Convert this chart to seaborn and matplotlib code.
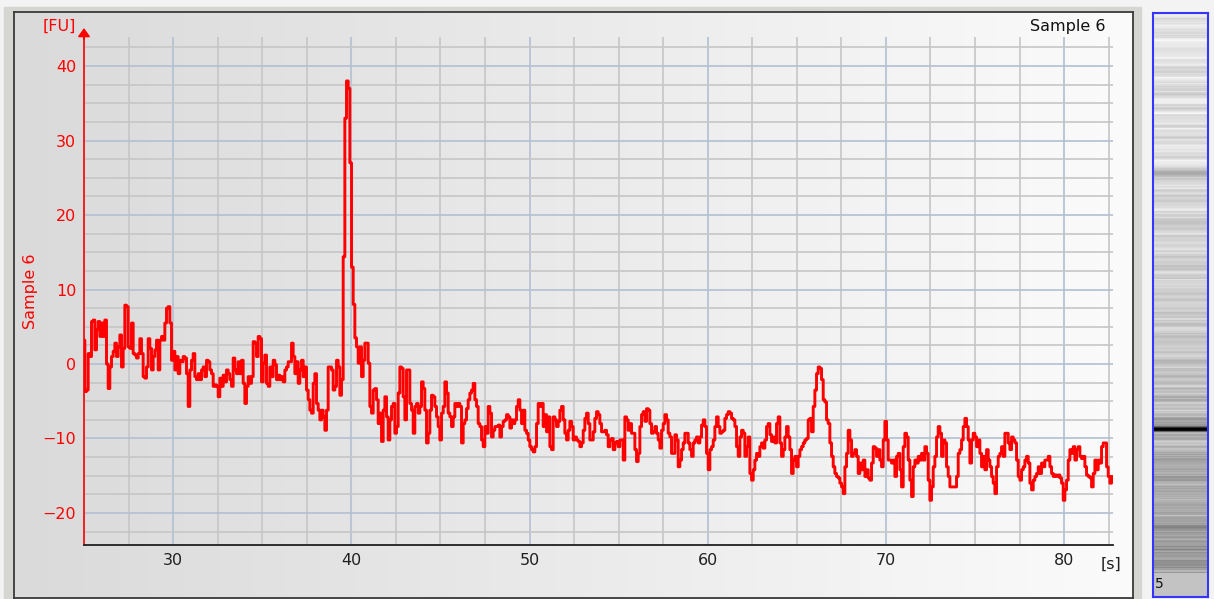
import numpy as np
import pandas as pd
import matplotlib
matplotlib.use("Agg")
import matplotlib.pyplot as plt
from matplotlib.ticker import MultipleLocator, FixedLocator
from matplotlib.patches import Rectangle
import seaborn as sns

# ---------------- data ----------------
T_START = 25.0      # s, first sample
T_STEP = 0.09353    # s, sampling interval

fu_25_to_39 = [
    3.2, -3.7, -3.5, 1.4, 1.0, 5.7, 5.9, 1.9, 4.6, 5.7, 3.7, 5.5, 3.7, 5.9, 0.0, -3.3,
    -0.4, 1.0, 1.7, 2.8, 1.0, 2.3, 3.9, -0.4, 2.1, 7.9, 7.7, 2.3, 2.1, 5.5, 1.4, 1.2,
    0.8, 1.4, 3.4, 1.4, -1.7, -1.9, -0.4, 3.4, 2.1, -0.8, 1.0, 1.9, 3.2, -0.8, 3.2, 3.7,
    3.2, 5.5, 7.5, 7.7, 5.5, 0.5, 1.7, -0.8, 1.0, -1.3, 0.5, 0.3, 1.0, 0.8, -1.3, -5.7,
    -0.8, 0.5, 1.4, -1.7, -2.1, -1.3, -2.1, -0.8, -0.4, -1.7, 0.5, 0.3, -0.8, -1.3, -3.0, -2.8,
    -3.0, -4.4, -1.9, -3.0, -1.5, -2.4, -0.8, -1.3, -2.1, -3.0, 0.8, -0.8, -1.3, 0.3, -1.3, 0.5,
    -2.6, -5.3, -3.0, -1.7, -2.6, -1.7, 3.0, 2.8, 1.0, 3.7, 3.4, -2.4, 0.1, 1.2, -2.6, -3.0,
    -0.4, -1.7, 0.5, -0.1, -2.1, -1.5, -2.1, -1.7, -2.4, -0.8, -0.4, 0.3, 0.3, 2.8, 1.0, -1.3,
    0.3, -2.6, -0.8, 0.5, -1.7, -0.4, -3.5, -4.8, -6.2, -6.6, -2.6, -1.3, -5.3, -6.2, -7.5, -6.2,
    -7.1, -8.9, -6.2, -0.4,
]

fu_39_to_52 = [
    -0.4, -0.8, -3.5, -3.0, 0.5, -0.4, -4.2, -2.1, 14.4, 33.0, 38.0, 37.0, 27.0, 13.0, 8.0, 3.5,
    2.3, 0.1, 2.3, -1.7, 0.5, 2.8, 2.8, 0.1, -5.7, -6.6, -3.5, -3.3, -4.8, -8.0, -6.6, -10.4,
    -6.2, -4.4, -7.1, -10.2, -7.5, -5.7, -5.3, -9.3, -8.4, -3.9, -0.4, -0.6, -4.4, -7.5, -0.8, -0.8,
    -5.3, -6.2, -9.3, -5.7, -5.3, -6.6, -5.7, -2.4, -3.3, -6.2, -10.6, -9.3, -6.2, -4.2, -4.4, -5.7,
    -7.1, -8.4, -10.2, -6.6, -5.7, -2.4, -3.9, -6.6, -7.1, -8.4, -7.1, -5.3, -5.7, -5.3, -5.7, -10.6,
    -8.0, -7.5, -6.0, -4.8, -3.9, -3.5, -2.6, -4.8, -5.7, -8.0, -8.4, -10.2, -11.1, -8.4, -9.3, -5.7,
    -6.6, -9.8, -8.9, -8.4, -8.4, -8.2, -9.8, -8.4, -7.7, -7.5, -6.8, -7.1, -8.6, -7.5, -8.0, -7.5,
    -5.7, -4.8, -6.2, -8.0, -6.2, -8.9, -9.3, -10.2, -11.1, -11.5, -11.8, -11.1, -8.0, -5.3, -5.7, -5.3,
    -8.4, -6.8, -9.1, -7.1, -11.1, -11.5, -7.1, -7.5, -8.4, -7.7, -6.2, -5.7, -7.5, -9.3, -10.2, -8.9,
    -7.7, -8.4, -10.2,
]

fu_52_to_66 = [
    -9.8, -10.2, -10.4, -11.1, -10.6, -8.9, -7.3, -6.6, -8.0, -10.2, -10.2, -9.1, -7.3, -6.4, -6.8, -8.0,
    -9.1, -9.1, -8.9, -9.5, -11.1, -10.2, -10.0, -11.5, -10.6, -10.4, -11.1, -10.2, -10.2, -12.9, -7.1, -7.5,
    -8.9, -8.0, -9.3, -9.3, -11.5, -13.1, -12.0, -8.4, -6.8, -6.4, -7.7, -6.0, -6.2, -8.0, -9.3, -9.1,
    -8.4, -9.3, -10.2, -11.3, -8.9, -8.0, -6.8, -7.5, -9.3, -9.8, -12.0, -12.0, -9.5, -10.2, -13.8, -12.9,
    -11.5, -10.6, -9.3, -9.3, -10.6, -11.5, -12.4, -10.6, -10.2, -9.8, -10.6, -9.8, -8.2, -7.5, -8.4, -12.0,
    -14.2, -11.5, -11.1, -10.2, -8.4, -7.1, -8.4, -9.3, -9.1, -8.9, -7.3, -6.8, -6.4, -6.6, -7.3, -7.5,
    -8.4, -11.1, -12.4, -9.8, -8.9, -9.3, -12.4, -11.1, -9.8, -14.7, -15.6, -14.2, -12.9, -12.0, -12.4, -11.1,
    -10.6, -11.3, -10.2, -8.4, -8.0, -9.5, -10.4, -9.8, -10.6, -8.0, -7.1, -10.6, -12.4, -11.5, -9.8, -8.4,
    -9.8, -11.5, -14.7, -12.9, -12.4, -13.8, -12.4, -11.5, -11.1, -10.6, -10.2, -10.0, -7.5, -7.3, -9.1, -5.7,
    -3.5, -1.3, -0.4,
]

fu_66_to_83 = [
    -0.6, -2.1, -4.8, -5.1, -7.5, -8.0, -10.6, -12.4, -13.8, -14.7, -15.1, -15.3, -16.0, -16.5, -17.4, -13.8,
    -12.0, -8.9, -10.2, -12.4, -12.0, -11.5, -12.4, -14.7, -13.3, -14.2, -12.9, -15.1, -14.2, -15.3, -15.6, -13.3,
    -11.1, -11.3, -12.4, -11.5, -12.9, -13.8, -10.2, -7.7, -10.2, -12.9, -12.9, -13.3, -12.9, -15.1, -12.4, -12.0,
    -14.2, -16.5, -11.1, -9.3, -9.8, -12.9, -15.6, -17.8, -13.8, -12.9, -13.3, -12.4, -12.9, -12.0, -12.9, -11.1,
    -12.0, -15.6, -18.3, -16.5, -13.8, -12.4, -9.8, -8.4, -9.3, -12.4, -10.2, -10.6, -13.8, -15.1, -16.5, -16.5,
    -16.5, -16.5, -15.1, -12.0, -11.5, -10.2, -8.4, -7.3, -8.4, -10.2, -13.3, -10.2, -9.3, -9.8, -11.1, -10.2,
    -12.0, -13.8, -12.4, -14.2, -11.5, -12.9, -13.8, -15.1, -16.0, -17.4, -13.8, -12.4, -12.0, -11.1, -12.4, -9.3,
    -9.3, -10.6, -11.5, -9.8, -10.2, -10.6, -12.9, -15.1, -15.6, -14.2, -13.8, -12.9, -12.4, -13.3, -16.0, -16.9,
    -15.6, -15.1, -14.7, -13.8, -14.7, -13.3, -13.8, -12.9, -12.9, -12.4, -13.8, -14.7, -15.1, -14.9, -15.1, -14.9,
    -15.3, -16.0, -18.3, -16.9, -15.6, -12.9, -11.5, -12.0, -11.1, -12.9, -11.5, -11.1, -12.4, -12.7, -12.4, -13.8,
    -14.9, -15.1, -15.3, -16.5, -14.7, -12.9, -14.2, -12.9, -13.3, -11.1, -10.6, -10.6, -13.8, -15.1, -16.0, -15.1,
]

sample_name = "Sample 6"
lane_label = "5"
y_unit = "[FU]"
x_unit = "[s]"
x_ticks = [30, 40, 50, 60, 70, 80]
y_ticks = [-20, -10, 0, 10, 20, 30, 40]

signal = np.array(fu_25_to_39 + fu_39_to_52 + fu_52_to_66 + fu_66_to_83)
time = T_START + T_STEP * np.arange(len(signal))
df = pd.DataFrame({"time": time, "fu": signal})

# ---------------- figure ----------------
sns.set_style("white")
plt.rcParams["font.family"] = ["DejaVu Sans"]

W, H = 1214, 599
fig = plt.figure(figsize=(W / 100, H / 100), dpi=100, facecolor="#f3f3f3")


def fr(x0, y0, x1, y1):
    return [x0 / W, 1 - y1 / H, (x1 - x0) / W, (y1 - y0) / H]


def px(x, y):
    return x / W, 1 - y / H


# grey window background
fig.patches.append(Rectangle((4 / W, 0), (1141 - 4) / W, (599 - 7) / H,
                             transform=fig.transFigure, color="#d5d5d1", zorder=-10))

# gradient panel
pan = fig.add_axes(fr(14, 12, 1133, 598))
pan.set_zorder(1)
grad = np.linspace(0, 1, 256)[None, :]
pan.imshow(grad, aspect="auto", cmap=matplotlib.colors.LinearSegmentedColormap.from_list(
    "bg", ["#dadada", "#fbfbfb"]), extent=[0, 1, 0, 1])
pan.set_xticks([])
pan.set_yticks([])
for s in pan.spines.values():
    s.set_color("#3a3a3a")
    s.set_linewidth(1.3)

# main plot
ax = fig.add_axes(fr(84, 37, 1112.6, 545))
ax.set_zorder(2)
ax.patch.set_alpha(0)
ax.set_axisbelow(True)
sns.lineplot(data=df, x="time", y="fu", ax=ax, color="#ff0000", lw=2.1,
             estimator=None, sort=False, legend=False, drawstyle="steps-mid")
ax.set_xlim(25, 82.72)
ax.set_ylim(-24.3, 43.9)
ax.set_xlabel("")
ax.set_ylabel("")

ax.xaxis.set_major_locator(FixedLocator(x_ticks))
ax.xaxis.set_minor_locator(MultipleLocator(2.5))
ax.yaxis.set_major_locator(FixedLocator(y_ticks))
ax.yaxis.set_minor_locator(MultipleLocator(2.5))
ax.grid(which="major", color="#b3c0d2", lw=1.2)
ax.grid(which="minor", color="#c6c6c6", lw=1.2)

ax.tick_params(axis="y", which="major", direction="inout", length=9, width=1.1,
               color="#ff0000", labelcolor="#ff0000", labelsize=11.5, pad=1)
ax.tick_params(axis="x", which="major", direction="inout", length=8, width=1.1,
               color="#202020", labelcolor="#202020", labelsize=11.5, pad=2)
ax.tick_params(which="minor", length=0)

for side in ("top", "right"):
    ax.spines[side].set_visible(False)
ax.spines["left"].set_color("#ff0000")
ax.spines["left"].set_linewidth(1.2)
ax.spines["bottom"].set_color("#202020")
ax.spines["bottom"].set_linewidth(1.3)

ax.annotate("", xy=(25, 45.1), xytext=(25, 43.6), xycoords="data",
            arrowprops=dict(arrowstyle="-|>,head_length=0.36,head_width=0.26",
                            color="#ff0000", lw=1.2, shrinkA=0, shrinkB=0,
                            mutation_scale=14),
            annotation_clip=False)

fig.text(*px(59, 26), y_unit, color="#ff0000", fontsize=11.5, ha="center", va="center", zorder=5)
fig.text(*px(1106, 26), sample_name, color="#111111", fontsize=11.5, ha="right", va="center", zorder=5)
fig.text(*px(30, 291), sample_name, color="#ff0000", fontsize=11.5, ha="center",
         va="center", rotation=90, zorder=5)
fig.text(*px(1111, 564), x_unit, color="#202020", fontsize=11.5, ha="center", va="center", zorder=5)

# gel lane
gel = fig.add_axes(fr(1153, 13, 1208, 597))
gel.set_zorder(2)
gel.set_facecolor("#c3c3c3")
gel.imshow(signal[:, None], aspect="auto", cmap="gray_r", vmin=-19.9, vmax=36.9,
           extent=[0, 1, time[0] - T_STEP / 2, time[-1] + T_STEP / 2],
           origin="lower", interpolation="nearest")
gel.set_xlim(0, 1)
gel.set_ylim(22.46, 82.92)
gel.set_xticks([])
gel.set_yticks([])
for s in gel.spines.values():
    s.set_color("#3535ff")
    s.set_linewidth(1.5)
fig.text(*px(1155, 584), lane_label, color="#111111", fontsize=10, ha="left", va="center", zorder=5)

fig.savefig("out.png", dpi=100, facecolor=fig.get_facecolor())
